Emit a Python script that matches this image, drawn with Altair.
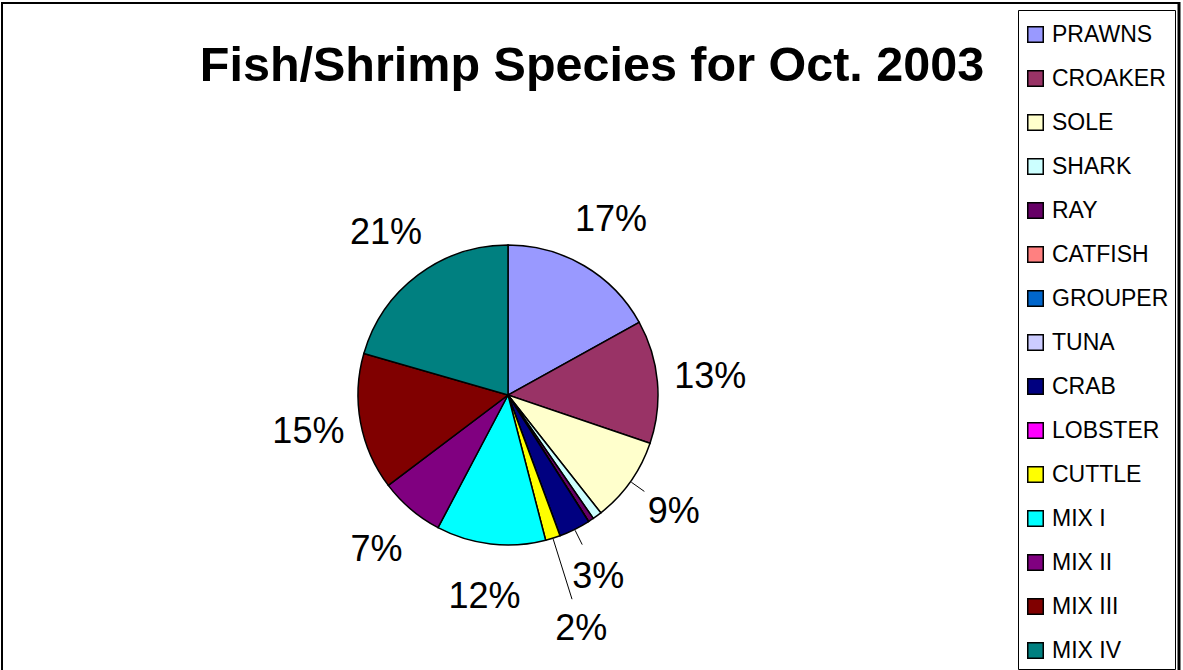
import math
import altair as alt
import pandas as pd

species = ["PRAWNS", "CROAKER", "SOLE", "SHARK", "RAY", "CATFISH", "GROUPER",
           "TUNA", "CRAB", "LOBSTER", "CUTTLE", "MIX I", "MIX II", "MIX III", "MIX IV"]
shares = [17.0, 13.3, 9.2, 1.0, 0.6, 0.0, 0.0, 0.0, 3.4, 0.0, 1.6, 11.8, 7.0, 14.8, 20.6]
labels = ["17%", "13%", "9%", "", "", "", "", "", "3%", "", "2%", "12%", "7%", "15%", "21%"]
colors = ["#9999FF", "#993366", "#FFFFCC", "#CCFFFF", "#660066", "#FF8080", "#0066CC",
          "#CCCCFF", "#000080", "#FF00FF", "#FFFF00", "#00FFFF", "#800080", "#800000", "#008080"]
leader_species = ["SOLE", "CRAB", "CUTTLE"]
title_text = "Fish/Shrimp Species for Oct. 2003"

df = pd.DataFrame({
    "species": species,
    "share": shares,
    "label": labels,
    "idx": list(range(len(species))),
})

W, H = 1183, 670
CX, CY = 508, 395
R = 150
FONT = "Liberation Sans"

pie = alt.Chart(df).mark_arc(outerRadius=R, stroke="black", strokeWidth=1.5).encode(
    theta=alt.Theta("share:Q", stack=True),
    order=alt.Order("idx:Q", sort="ascending"),
    x=alt.value(CX),
    y=alt.value(CY),
    color=alt.Color(
        "species:N",
        scale=alt.Scale(domain=species, range=colors),
        sort=species,
        legend=alt.Legend(
            title=" ",
            titleFontSize=2,
            titlePadding=5,
            orient="none",
            legendX=1018,
            legendY=10,
            symbolType="square",
            symbolSize=240,
            symbolStrokeColor="black",
            symbolStrokeWidth=1.5,
            symbolOpacity=1,
            labelFont=FONT,
            labelFontSize=23,
            labelColor="black",
            labelOffset=5,
            rowPadding=20,
            padding=6,
            strokeColor="black",
            fillColor="white",
            labelLimit=300,
        ),
    )
)

mids = alt.Chart(df).transform_joinaggregate(
    total="sum(share)"
).transform_window(
    cum="sum(share)", sort=[alt.SortField("idx", order="ascending")], frame=[None, 0]
).transform_calculate(
    mid="(datum.cum - datum.share / 2) / datum.total",
    lr="datum.species == 'CUTTLE' ? 245 : 203",
)

labels_layer = mids.mark_text(font=FONT, fontSize=36, color="black").encode(
    theta=alt.Theta("mid:Q", stack=None, scale=alt.Scale(domain=[0, 1], range=[0, 2 * math.pi])),
    radius=alt.Radius("lr:Q", scale=None),
    x=alt.value(CX),
    y=alt.value(CY),
    text="label:N",
)

leaders = mids.transform_filter(
    alt.FieldOneOfPredicate(field="species", oneOf=leader_species)
).transform_calculate(
    r2="datum.species == 'CUTTLE' ? 214 : 167",
    ang="2 * PI * datum.mid",
).transform_calculate(
    lx1=f"{CX} + {R + 1} * sin(datum.ang)",
    ly1=f"{CY} - {R + 1} * cos(datum.ang)",
    lx2=f"{CX} + datum.r2 * sin(datum.ang)",
    ly2=f"{CY} - datum.r2 * cos(datum.ang)",
).mark_rule(color="black", strokeWidth=1).encode(
    x=alt.X("lx1:Q", scale=None, axis=None),
    y=alt.Y("ly1:Q", scale=None, axis=None),
    x2="lx2:Q",
    y2="ly2:Q",
)

title = alt.Chart(pd.DataFrame({"t": [title_text]})).mark_text(
    font=FONT, fontSize=48.5, fontWeight="bold", color="black"
).encode(x=alt.value(592), y=alt.value(66), text="t:N")

border_top = alt.Chart(pd.DataFrame({"a": [0]})).mark_rule(color="black", strokeWidth=2).encode(
    x=alt.value(2), x2=alt.value(1180), y=alt.value(3))
border_left = alt.Chart(pd.DataFrame({"a": [0]})).mark_rule(color="black", strokeWidth=2).encode(
    x=alt.value(2), y=alt.value(2), y2=alt.value(H))
border_right = alt.Chart(pd.DataFrame({"a": [0]})).mark_rule(color="black", strokeWidth=3).encode(
    x=alt.value(1179), y=alt.value(2), y2=alt.value(H))

chart = alt.layer(
    border_top, border_left, border_right, pie, leaders, labels_layer, title
).resolve_scale(
    theta="independent", x="independent", y="independent"
).properties(
    width=W, height=H, autosize=alt.AutoSizeParams(type="none"), padding=0,
    background="white",
).configure_view(stroke=None)

chart.save("out.html", embed_options={"renderer": "svg", "actions": False})
